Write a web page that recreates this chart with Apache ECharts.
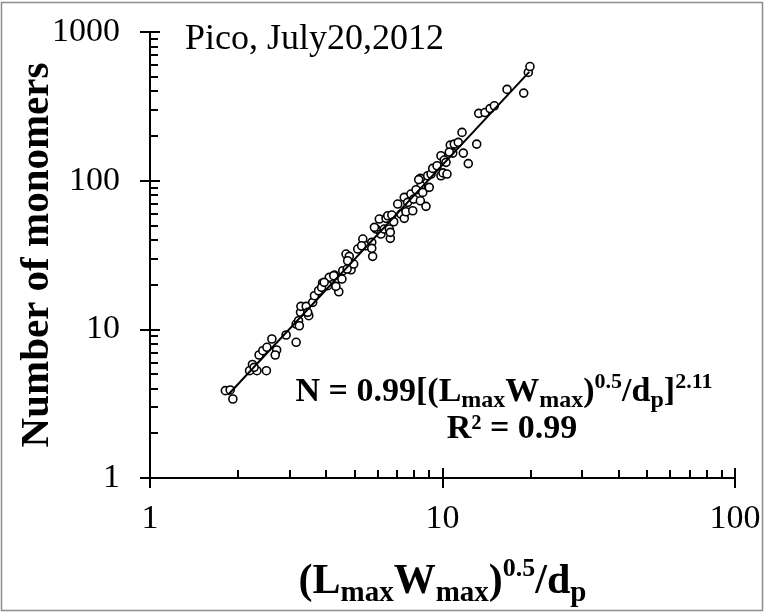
<!DOCTYPE html>
<html>
<head>
<meta charset="utf-8">
<script src="https://cdn.jsdelivr.net/npm/echarts@6/dist/echarts.min.js"></script>
<style>
  html, body { margin: 0; padding: 0; background: #fff; }
  #chart { width: 765px; height: 613px; }
</style>
</head>
<body>
<div id="chart"></div>
<script>
// ---- data ----
const sizeParam = [1.81, 1.88, 1.92, 2.24, 2.32, 2.50, 2.19, 2.36, 2.43, 2.51, 2.61, 2.71, 2.68, 2.27,
  2.92, 3.16, 3.16, 3.22, 3.27, 3.28, 3.42, 3.49, 3.60, 3.65, 3.24, 3.46,
  3.77, 3.89, 4.05, 4.10, 4.27, 4.38, 4.42, 4.53, 3.86, 3.94, 4.32, 4.25, 4.56,
  4.68, 4.80, 4.87, 4.97, 4.74, 4.72, 5.13, 5.34, 5.48, 5.29, 5.73, 5.77, 5.73,
  5.93, 5.85, 6.08, 6.16, 6.41, 6.32, 6.63, 6.58, 6.63, 6.50, 6.71, 6.81,
  7.03, 7.21, 7.40, 7.40, 7.50, 7.60, 7.80, 7.91, 7.97,
  8.40, 8.40, 8.44, 8.12, 8.56, 8.78, 8.29, 8.90, 9.01, 9.14, 9.26, 9.58,
  9.88, 9.88, 10.04, 10.14, 10.36, 10.28, 10.63, 10.84, 10.97, 11.32, 10.55,
  11.66, 11.78, 12.25, 13.09, 13.30, 13.97, 14.54, 15.04, 16.62, 18.95, 19.65, 19.91];
const monomers = [3.87, 3.91, 3.40, 5.80, 5.27, 5.27, 5.27, 6.72, 7.18, 7.57, 8.61, 7.26, 6.72, 5.55,
  9.16, 8.18, 10.85, 11.42, 13.01, 14.28, 14.28, 12.35, 15.19, 16.83, 10.57, 13.01,
  18.18, 20.49, 19.65, 22.37, 23.19, 21.79, 17.90, 21.79, 19.16, 20.71, 19.46, 22.94, 24.78,
  32.10, 30.97, 25.17, 27.49, 28.93, 25.44, 34.67, 40.48, 36.49, 36.49, 38.47, 30.97, 35.05,
  47.26, 48.52, 55.18, 43.74, 55.78, 47.26, 40.93, 47.26, 44.90, 58.07, 58.70, 52.92,
  69.60, 59.62, 55.78, 77.22, 61.78, 71.46, 81.26, 62.75, 75.18,
  103.6, 73.22, 92.4, 86.88, 83.4, 67.18, 101.7, 107.9, 90.15, 110.8, 120.9, 126.0,
  147.1, 107.9, 112.8, 137.6, 110.8, 132.8, 173.5, 153.3, 176.2, 181.0, 155.7,
  211.2, 153.3, 130.3, 176.2, 283.6, 287.1, 305.4, 318.9, 411.1, 388.2, 534.9, 585.4];
// fitted power law N = 0.99 x^2.11, endpoints of the drawn trendline
const fitX = [1.85, 19.8];
const fitY = [3.63, 539];
// axis ticks
const xMajor = [1, 10, 100];
const xMinor = [2, 3, 4, 5, 6, 7, 8, 9, 20, 30, 40, 50, 60, 70, 80, 90];
const yMajor = [1, 10, 100, 1000];
const yMinor = [2, 3, 4, 5, 6, 7, 8, 9, 20, 30, 40, 50, 60, 70, 80, 90, 200, 300, 400, 500, 600, 700, 800, 900];

const SERIF = '"Liberation Serif", "Times New Roman", serif';
const chart = echarts.init(document.getElementById('chart'), null, { renderer: 'canvas' });

const axisLine = { show: true, lineStyle: { color: '#000', width: 2 } };
const tickStyle = { color: '#000', width: 2 };
const plainNum = v => String(Math.round(v));

function xAxisBase(extra) {
  return Object.assign({
    type: 'log', logBase: 10, min: 1, max: 100, position: 'bottom', gridIndex: 0,
    splitLine: { show: false }, minorTick: { show: false }, minorSplitLine: { show: false }
  }, extra);
}
function yAxisBase(extra) {
  return Object.assign({
    type: 'log', logBase: 10, min: 1, max: 1000, position: 'left', gridIndex: 0,
    splitLine: { show: false }, minorTick: { show: false }, minorSplitLine: { show: false }
  }, extra);
}

const option = {
  animation: false,
  backgroundColor: '#fff',
  grid: { left: 150, right: 30, top: 32, bottom: 135, containLabel: false, outerBoundsMode: 'none' },
  xAxis: [
    xAxisBase({
      axisLine: axisLine,
      axisTick: { show: true, inside: false, length: 10, lineStyle: tickStyle, customValues: xMajor },
      axisLabel: { show: true, color: '#000', fontFamily: SERIF, fontSize: 34, margin: 24, formatter: plainNum },
      name: '(L{s|max}W{s|max}){p|0.5}/d{s|p}',
      nameLocation: 'middle', nameGap: 78, nameMoveOverlap: false,
      nameTextStyle: {
        color: '#000', fontFamily: SERIF, fontSize: 42, fontWeight: 'bold', lineHeight: 52,
        rich: {
          s: { fontFamily: SERIF, fontSize: 29, fontWeight: 'bold', color: '#000', lineHeight: 29, verticalAlign: 'bottom' },
          p: { fontFamily: SERIF, fontSize: 26, fontWeight: 'bold', color: '#000', lineHeight: 26, verticalAlign: 'top' }
        }
      }
    }),
    xAxisBase({
      axisLine: { show: false },
      axisTick: { show: true, inside: true, length: 10, lineStyle: tickStyle, customValues: xMajor },
      axisLabel: { show: false }
    }),
    xAxisBase({
      axisLine: { show: false },
      axisTick: { show: true, inside: true, length: 8, lineStyle: tickStyle, customValues: xMinor },
      axisLabel: { show: false }
    })
  ],
  yAxis: [
    yAxisBase({
      axisLine: axisLine,
      axisTick: { show: true, inside: false, length: 10, lineStyle: tickStyle, customValues: yMajor },
      axisLabel: { show: true, color: '#000', fontFamily: SERIF, fontSize: 34, margin: 30, formatter: plainNum },
      name: 'Number of monomers',
      nameLocation: 'middle', nameGap: 92, nameRotate: 90, nameMoveOverlap: false,
      nameTextStyle: { color: '#000', fontFamily: SERIF, fontSize: 41, fontWeight: 'bold' }
    }),
    yAxisBase({
      axisLine: { show: false },
      axisTick: { show: true, inside: true, length: 10, lineStyle: tickStyle, customValues: yMajor },
      axisLabel: { show: false }
    }),
    yAxisBase({
      axisLine: { show: false },
      axisTick: { show: true, inside: true, length: 8, lineStyle: tickStyle, customValues: yMinor },
      axisLabel: { show: false }
    })
  ],
  series: [
    {
      type: 'scatter', xAxisIndex: 0, yAxisIndex: 0,
      data: sizeParam.map((x, i) => [x, monomers[i]]),
      symbol: 'circle', symbolSize: 8,
      itemStyle: { color: '#fff', borderColor: '#000', borderWidth: 1.6, opacity: 1 },
      z: 2
    },
    {
      type: 'line', xAxisIndex: 0, yAxisIndex: 0,
      data: fitX.map((x, i) => [x, fitY[i]]),
      symbol: 'none', lineStyle: { color: '#000', width: 2 },
      z: 3
    }
  ],
  graphic: [
    {
      type: 'rect', shape: { x: 1.5, y: 2.5, width: 761, height: 608 },
      style: { fill: 'none', stroke: '#8c8c8c', lineWidth: 1.5 }, z: 0, silent: true
    },
    {
      type: 'text', x: 185, y: 40,
      style: { text: 'Pico, July20,2012', fontFamily: SERIF, fontSize: 36, fill: '#000', align: 'left', verticalAlign: 'middle' }
    },
    {
      type: 'text', x: 504, y: 392,
      style: {
        text: 'N = 0.99[(L{s|max}W{s|max}){p|0.5}/d{s|p}]{p|2.11}',
        fontFamily: SERIF, fontSize: 34, fontWeight: 'bold', fill: '#000', lineHeight: 42,
        align: 'center', verticalAlign: 'middle',
        rich: {
          s: { fontFamily: SERIF, fontSize: 24, fontWeight: 'bold', fill: '#000', lineHeight: 24, verticalAlign: 'bottom' },
          p: { fontFamily: SERIF, fontSize: 22, fontWeight: 'bold', fill: '#000', lineHeight: 22, verticalAlign: 'top' }
        }
      }
    },
    {
      type: 'text', x: 512, y: 429,
      style: { text: 'R² = 0.99', fontFamily: SERIF, fontSize: 34, fontWeight: 'bold', fill: '#000', align: 'center', verticalAlign: 'middle' }
    }
  ]
};
chart.setOption(option);
</script>
</body>
</html>
